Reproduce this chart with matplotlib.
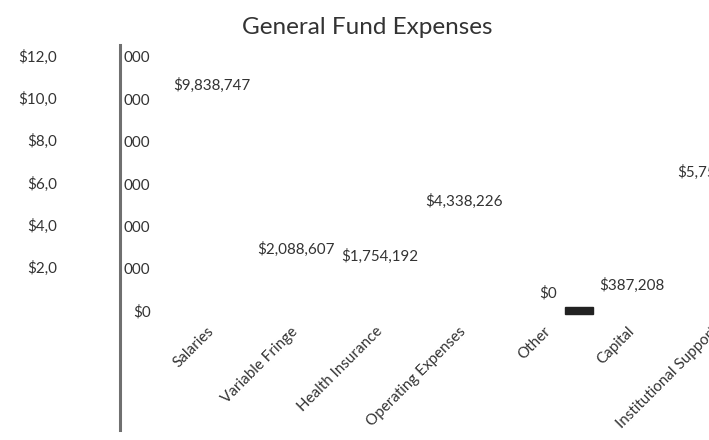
import numpy as np
from matplotlib import pyplot as plt
from matplotlib.patches import Rectangle

# DATI #
categorie = ["Salaries", "Variable Fringe", "Health Insurance", "Operating Expenses",
             "Other", "Capital", "Institutional Support"]
valori = [9838747, 2088607, 1754192, 4338226, 0, 387208, 5750000]
tick_y = [0, 2000000, 4000000, 6000000, 8000000, 10000000, 12000000]

plt.rcParams['font.family'] = ['Lato', 'DejaVu Sans']
col_testo = "#333333"
fs = 10.9

W, H = 709, 440
fig = plt.figure(figsize=(W / 100, H / 100), dpi=100)
# l'area del grafico esce a destra dalla figura (immagine tagliata)
ax = fig.add_axes([170 / W, 1 - 311 / H, 7 * 84 / W, (311 - 57) / H])

x = np.arange(len(categorie))
ax.bar(x, valori, width=0.6, color="white")
for xi, v in zip(x, valori):
    ax.annotate(f"${v:,.0f}", (xi, v), xytext=(0, 12.5), textcoords="offset points",
                ha="center", va="center", fontsize=fs, color=col_testo)

ax.set_xlim(-0.5, len(categorie) - 0.5)
ax.set_ylim(0, 12000000)
for s in ax.spines.values():
    s.set_visible(False)
ax.tick_params(length=0)

ax.set_xticks(x)
ax.set_xticklabels(categorie, rotation=45, ha="right", va="center",
                   rotation_mode="anchor", fontsize=fs, color=col_testo)
ax.tick_params(axis="x", pad=13)

# etichette asse y spezzate in due pezzi come nell'immagine
etich = [f"${v:,.0f}" for v in tick_y]
ax.set_yticks(tick_y)
ax.set_yticklabels([e if v == 0 else e[-3:] for e, v in zip(etich, tick_y)],
                   fontsize=fs, color=col_testo)
ax.tick_params(axis="y", pad=14)
for e, v in zip(etich, tick_y):
    if v == 0:
        continue
    ax.annotate(e[:-6], (0, v), xycoords=("figure pixels", "data"),
                xytext=(57 * 0.72, 0), textcoords="offset points",
                ha="right", va="center", fontsize=fs, color=col_testo)

fig.text(367 / W, 1 - 27 / H, "General Fund Expenses", ha="center", va="center",
         fontsize=17.5, color=col_testo)

# artefatti dell'immagine originale
fig.add_artist(plt.Line2D([120 / W, 120 / W], [1 - 45 / H, 1 - 430 / H],
                          color="#707070", lw=2.2))
fig.add_artist(Rectangle((565 / W, 1 - 314 / H), 28 / W, 7 / H,
                         transform=fig.transFigure, color="#222222"))

fig.savefig("out.png", dpi=100)
